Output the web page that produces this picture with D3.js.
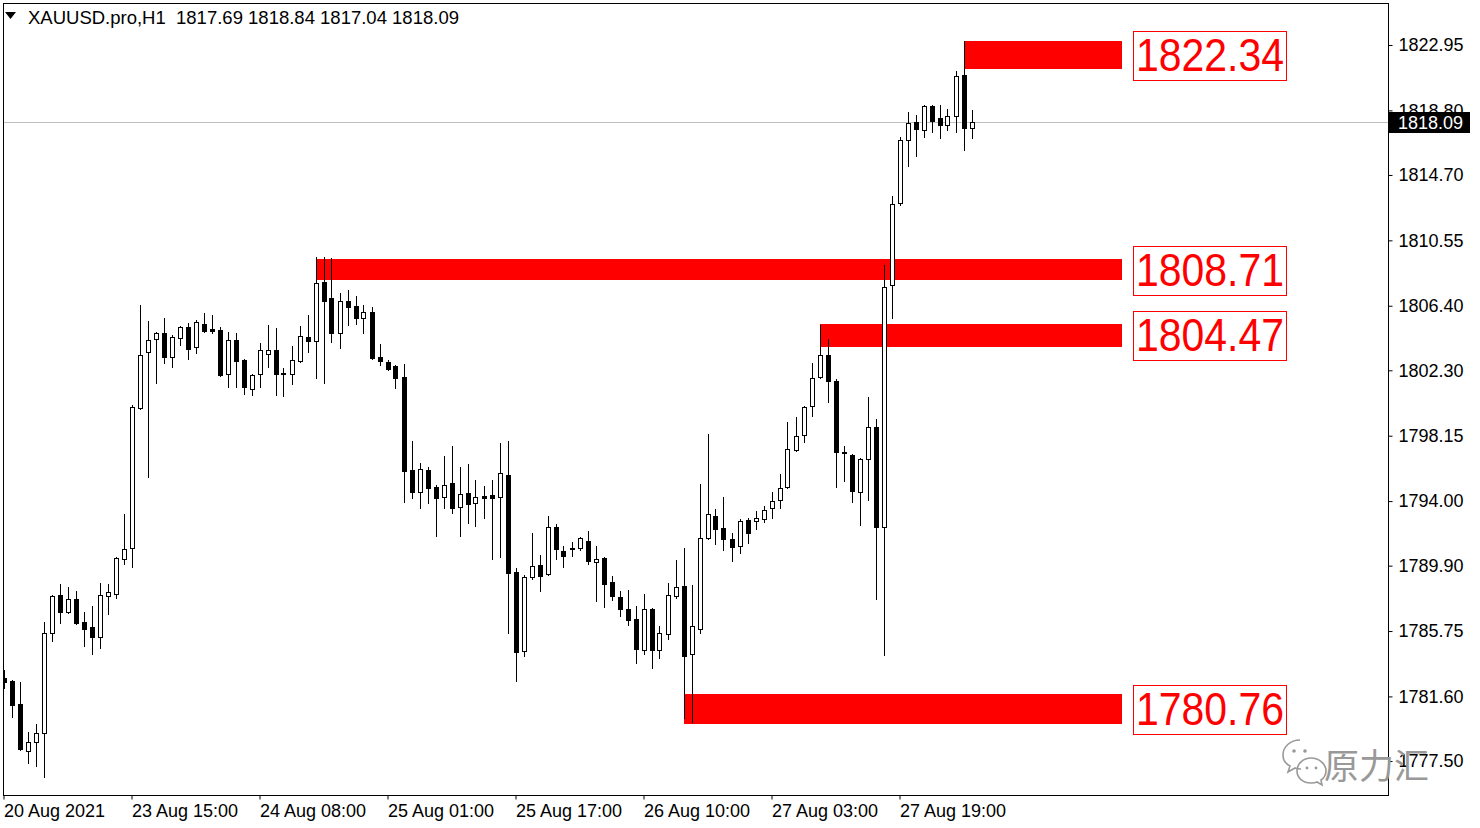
<!DOCTYPE html>
<html>
<head>
<meta charset="utf-8">
<script src="https://cdn.jsdelivr.net/npm/d3@7/dist/d3.min.js"></script>
<style>
html,body{margin:0;padding:0;background:#fff;}
svg{display:block;font-family:"Liberation Sans",Arial,sans-serif;}
</style>
</head>
<body>
<svg id="chart" width="1480" height="828"></svg>
<script>
// ---- data ----
const symbolTitle = "XAUUSD.pro,H1";
const lastOHLC = [1817.69, 1818.84, 1817.04, 1818.09];
const currentPrice = 1818.09;

const open = [
1782.76,1782.57,1781.11,1778.12,1778.70,1779.27,1785.62,1788.03,1786.95,1787.78,
1786.32,1786.00,1785.36,1787.97,1788.09,1790.32,1791.01,1799.90,1803.46,1804.28,
1804.66,1803.14,1804.35,1805.05,1803.78,1805.24,1804.92,1804.85,1802.06,1804.22,
1802.95,1801.11,1802.06,1803.33,1803.58,1802.06,1802.06,1802.89,1804.41,1804.16,
1807.90,1806.89,1804.66,1806.70,1806.38,1805.62,1806.00,1803.14,1802.82,1802.57,
1801.87,1795.97,1794.57,1795.97,1794.89,1794.25,1795.14,1793.62,1794.51,1793.87,
1794.32,1794.38,1794.25,1795.65,1789.49,1784.47,1789.17,1789.93,1789.36,1792.35,
1790.82,1791.01,1791.01,1791.46,1790.12,1790.38,1788.85,1787.90,1787.14,1786.51,
1784.54,1787.14,1784.54,1785.55,1787.97,1788.60,1784.28,1785.87,1791.65,1793.05,
1792.28,1791.58,1791.14,1792.79,1792.73,1792.85,1793.55,1794.06,1794.89,1797.24,
1798.19,1800.03,1801.87,1803.27,1801.62,1797.11,1796.95,1794.57,1796.66,1798.70,
1792.35,1807.71,1812.89,1816.92,1818.06,1817.55,1819.08,1818.32,1817.87,1818.44,
1821.05,1817.69];
const high = [
1783.27,1782.63,1782.51,1779.33,1779.84,1786.32,1788.03,1788.73,1788.54,1788.28,
1786.95,1787.33,1788.79,1788.73,1790.44,1793.17,1800.09,1806.44,1805.43,1804.73,
1805.62,1804.54,1805.11,1805.30,1805.49,1805.93,1805.81,1805.05,1804.73,1804.66,
1803.01,1802.06,1804.03,1805.17,1804.98,1802.44,1803.84,1805.11,1805.81,1809.49,
1809.49,1809.45,1807.20,1807.39,1807.01,1806.44,1806.32,1803.97,1802.95,1802.63,
1802.70,1797.81,1796.41,1796.16,1795.01,1796.85,1797.49,1796.16,1796.35,1795.33,
1794.95,1795.33,1797.68,1797.81,1789.74,1789.30,1791.97,1790.57,1793.05,1792.54,
1791.14,1791.39,1791.71,1792.09,1791.14,1790.44,1789.24,1788.28,1788.35,1787.33,
1788.09,1787.20,1786.06,1788.79,1790.25,1791.01,1788.66,1795.08,1798.25,1793.49,
1794.25,1791.97,1792.85,1792.92,1793.36,1793.71,1794.57,1795.71,1799.01,1799.33,
1800.06,1802.76,1805.17,1804.28,1801.74,1797.52,1797.00,1796.72,1800.63,1799.24,
1808.98,1813.36,1817.11,1818.72,1818.51,1819.16,1819.14,1819.11,1818.89,1821.30,
1823.18,1818.84];
const low = [
1782.12,1780.28,1778.19,1777.36,1777.17,1776.47,1785.11,1786.25,1786.89,1786.19,
1784.79,1784.28,1784.66,1786.82,1787.84,1790.00,1789.81,1799.84,1795.52,1801.49,
1802.76,1802.51,1803.90,1803.01,1803.39,1804.73,1804.66,1801.93,1801.24,1801.24,
1800.79,1800.73,1801.24,1802.51,1800.73,1800.66,1801.43,1802.82,1803.46,1801.81,
1801.49,1804.09,1803.71,1805.17,1805.24,1804.66,1803.01,1802.63,1802.32,1801.17,
1793.93,1794.19,1793.55,1793.87,1791.78,1793.55,1793.24,1791.78,1792.60,1792.41,
1792.92,1790.32,1790.44,1785.62,1782.57,1784.16,1789.05,1788.28,1789.30,1790.32,
1789.81,1790.51,1790.89,1790.00,1787.65,1787.27,1787.71,1786.70,1786.12,1783.71,
1784.28,1783.39,1784.03,1785.24,1787.84,1780.22,1779.97,1785.62,1791.59,1791.27,
1790.89,1790.19,1790.70,1791.33,1792.22,1792.66,1792.92,1793.55,1794.82,1797.17,
1797.74,1799.39,1801.81,1800.28,1794.89,1795.27,1793.97,1792.47,1794.06,1787.78,
1784.25,1805.62,1812.79,1815.27,1815.90,1817.11,1817.43,1817.05,1817.55,1817.43,
1816.31,1817.04];
const close = [
1782.51,1781.05,1778.25,1778.70,1779.27,1785.62,1787.97,1786.95,1787.78,1786.25,
1785.87,1785.36,1788.03,1788.22,1790.38,1790.95,1799.97,1803.27,1804.22,1804.66,
1803.14,1804.41,1805.05,1803.65,1805.36,1804.79,1804.79,1802.00,1804.22,1802.89,
1801.24,1802.00,1803.58,1803.58,1802.06,1802.10,1802.95,1804.47,1804.16,1807.84,
1806.70,1804.66,1806.70,1806.32,1805.62,1806.00,1803.08,1802.89,1802.38,1801.81,
1795.90,1794.57,1796.03,1794.82,1794.19,1795.01,1793.55,1794.44,1793.81,1794.25,
1794.19,1794.19,1795.78,1789.43,1784.41,1789.17,1789.87,1789.24,1792.35,1790.95,
1790.51,1791.05,1791.65,1790.19,1790.32,1788.73,1787.97,1787.14,1786.44,1784.60,
1787.14,1784.54,1785.62,1788.03,1788.54,1784.16,1786.06,1791.65,1793.17,1792.22,
1791.58,1791.08,1792.73,1791.97,1792.92,1793.43,1794.00,1794.82,1797.30,1798.12,
1799.97,1801.81,1803.30,1801.62,1797.11,1797.05,1794.63,1796.66,1798.70,1792.35,
1807.58,1812.85,1816.92,1818.00,1817.62,1819.08,1818.12,1817.87,1818.44,1820.98,
1817.69,1818.09];

// price zones (label, top, bottom, starting bar index)
const zoneLabels = ["1822.34", "1808.71", "1804.47", "1780.76"];
const zoneTop    = [1823.20, 1809.36, 1805.24, 1781.76];
const zoneBottom = [1821.43, 1808.03, 1803.78, 1779.86];
const zoneStart  = [120, 39, 102, 85];

const yTickValues = [1822.95,1818.80,1814.70,1810.55,1806.40,1802.30,1798.15,1794.00,1789.90,1785.75,1781.60,1777.50];
const xTickIndex  = [0,16,32,48,64,80,96,112];
const xTickLabels = ["20 Aug 2021","23 Aug 15:00","24 Aug 08:00","25 Aug 01:00","25 Aug 17:00","26 Aug 10:00","27 Aug 03:00","27 Aug 19:00"];

const watermarkText = "原力汇";

// ---- layout ----
const svg = d3.select("#chart");
const plotL = 3.5, plotT = 3.5, plotR = 1388.5, plotB = 795.5;
const FONT = 18;

const x = d3.scaleLinear().domain([0, 121]).range([3.5, 971.5]);
const y = d3.scaleLinear().domain([1777.50, 1822.95]).range([761, 45]);

const bars = open.map((o, i) => ({i, o, h: high[i], l: low[i], c: close[i]}));

svg.append("defs").append("clipPath").attr("id","plotclip")
  .append("rect").attr("x", plotL).attr("y", plotT).attr("width", plotR-plotL).attr("height", plotB-plotT);

const plot = svg.append("g").attr("clip-path","url(#plotclip)");

// current price line
plot.append("line").attr("x1", plotL).attr("x2", plotR)
  .attr("y1", Math.round(y(currentPrice))+0.5).attr("y2", Math.round(y(currentPrice))+0.5)
  .attr("stroke","#c0c0c0").attr("stroke-width",1);

// zones
const zoneEnd = 1122;
const zones = zoneLabels.map((lab, j) => ({lab, t: zoneTop[j], b: zoneBottom[j], s: zoneStart[j]}));
plot.selectAll("rect.zone").data(zones).enter().append("rect").attr("class","zone")
  .attr("x", d => Math.round(x(d.s)))
  .attr("y", d => Math.round(y(d.t)))
  .attr("width", d => zoneEnd - Math.round(x(d.s)))
  .attr("height", d => Math.round(y(d.b)) - Math.round(y(d.t)))
  .attr("fill","#ff0000");

// candles
const cg = plot.append("g");
const cx = d => Math.round(x(d.i));
cg.selectAll("line.wick").data(bars).enter().append("line")
  .attr("x1", d => cx(d)+0.5).attr("x2", d => cx(d)+0.5)
  .attr("y1", d => Math.round(y(d.h))).attr("y2", d => Math.round(y(d.l))+1)
  .attr("stroke","#000").attr("stroke-width",1).attr("shape-rendering","crispEdges");
cg.selectAll("rect.body").data(bars).enter().append("rect")
  .attr("shape-rendering","crispEdges")
  .each(function(d){
    const top = Math.round(y(Math.max(d.o,d.c)));
    const bot = Math.round(y(Math.min(d.o,d.c)));
    const sel = d3.select(this);
    if (d.c >= d.o) {
      sel.attr("x", cx(d)-2+0.5).attr("y", top+0.5).attr("width", 4).attr("height", Math.max(1, bot-top))
        .attr("fill","#fff").attr("stroke","#000").attr("stroke-width",1);
    } else {
      sel.attr("x", cx(d)-2).attr("y", top).attr("width", 5).attr("height", Math.max(2, bot-top+1))
        .attr("fill","#000");
    }
  });

// zone labels
const lg = svg.append("g");
zones.forEach(d => {
  const cy = y((d.t + d.b)/2);
  lg.append("rect").attr("x", 1133.5).attr("y", Math.round(cy-24)+0.5).attr("width", 153).attr("height", 49)
    .attr("fill","#fff").attr("stroke","#ff0000").attr("stroke-width",1);
  lg.append("text").attr("x", 1210).attr("y", cy+16).attr("text-anchor","middle")
    .attr("fill","#ff0000").attr("font-size", 46)
    .attr("textLength", 148).attr("lengthAdjust","spacingAndGlyphs")
    .text(d.lab);
});

// frame
svg.append("rect").attr("x", plotL).attr("y", plotT).attr("width", plotR-plotL).attr("height", plotB-plotT)
  .attr("fill","none").attr("stroke","#000").attr("stroke-width",1);

// right axis
const yAxis = d3.axisRight(y).tickValues(yTickValues).tickFormat(d3.format(".2f")).tickSize(4).tickPadding(6);
const ya = svg.append("g").attr("transform", `translate(${plotR},0)`).call(yAxis);
ya.select(".domain").remove();
ya.selectAll("text").attr("font-size", FONT).attr("fill","#000").attr("font-family","\"Liberation Sans\",Arial,sans-serif");

// current price tag
const cpY = Math.round(y(currentPrice));
svg.append("rect").attr("x", 1389).attr("y", cpY-10).attr("width", 81).attr("height", 21).attr("fill","#000");
svg.append("text").attr("x", 1398).attr("y", cpY+7).attr("fill","#fff").attr("font-size", FONT)
  .text(d3.format(".2f")(currentPrice));

// bottom axis
const xAxis = d3.axisBottom(x).tickValues(xTickIndex).tickFormat((d,i) => xTickLabels[i]).tickSize(4).tickPadding(5);
const xa = svg.append("g").attr("transform", `translate(0,${plotB})`).call(xAxis);
xa.select(".domain").remove();
xa.selectAll("text").attr("font-size", FONT).attr("fill","#000").attr("text-anchor","start")
  .attr("font-family","\"Liberation Sans\",Arial,sans-serif");

// title
svg.append("path").attr("d","M5,12 L16,12 L10.5,19 Z").attr("fill","#000");
svg.append("text").attr("x", 28).attr("y", 24).attr("font-size", 18.5).attr("fill","#000")
  .style("white-space","pre")
  .text(symbolTitle + "  " + lastOHLC.map(d3.format(".2f")).join(" "));

// watermark
const wmColor = "#999999";
const wm = svg.append("g").attr("fill","none").attr("stroke",wmColor).attr("stroke-width",1.6);
wm.append("path").attr("d","M1300,740 C1290,740 1283,747 1283,755 C1283,760 1286,764 1290,766 L1288,772 L1295,768 C1297,769 1299,769 1301,769");
wm.append("path").attr("d","M1311,758 C1303,758 1297,764 1297,771 C1297,778 1303,783 1311,783 C1313,783 1315,783 1317,782 L1322,785 L1321,780 C1324,778 1326,775 1326,771 C1326,764 1319,758 1311,758 Z");
svg.append("circle").attr("cx",1294).attr("cy",751).attr("r",1.8).attr("fill",wmColor);
svg.append("circle").attr("cx",1305).attr("cy",751).attr("r",1.8).attr("fill",wmColor);
svg.append("circle").attr("cx",1307).attr("cy",768).attr("r",1.4).attr("fill",wmColor);
svg.append("circle").attr("cx",1316).attr("cy",768).attr("r",1.4).attr("fill",wmColor);
svg.append("text").attr("x", 1324).attr("y", 779).attr("font-size", 35).attr("fill",wmColor)
  .attr("font-family","\"Noto Sans CJK SC\",sans-serif").text(watermarkText);
</script>
</body>
</html>
